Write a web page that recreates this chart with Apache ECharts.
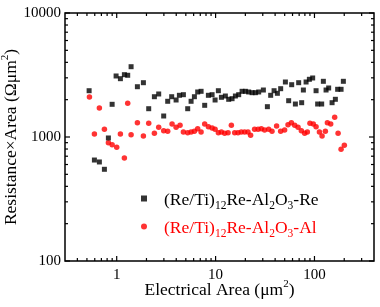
<!DOCTYPE html>
<html><head><meta charset="utf-8">
<script src="https://cdn.jsdelivr.net/npm/echarts@6/dist/echarts.min.js"></script>
<style>html,body{margin:0;padding:0;background:#fff}#c{width:380px;height:307px}</style>
</head><body><div id="c"></div>
<script>
// (Re/Ti)12Re-Al2O3-Re  (black squares)
const reArea = [0.526,0.595,0.668,0.751,0.824,0.899,0.986,1.09,1.196,1.292,1.398,1.619,1.862,2.107,2.405,2.659,2.987,3.279,3.598,3.987,4.305,4.726,5.224,5.653,6.106,6.592,7.135,7.759,8.458,9.22,9.885,10.67,11.45,12.56,13.57,14.68,15.86,17.13,18.53,20.01,21.61,23.39,25.26,27.28,30.43,33.41,36.07,39.04,42.17,45.52,50.8,54.84,58.83,64.12,69.22,74.24,77.24,82.27,88.8,95.9,103.8,107.7,118.3,123,131,139.2,150.7,162.7,171.6,185.8,196];
const reRA = [2362,652,629,549,982,1835,3105,2953,3181,3146,3689,2544,2741,1691,2113,2223,1477,1941,2113,1988,2169,2194,1691,1941,2113,2307,2336,1801,2169,2194,1988,2362,2090,2141,2014,2037,2141,2194,2336,2336,2307,2277,2277,2307,2393,1756,2169,2362,2251,2452,2777,1962,2641,1845,2741,1891,2393,2777,2920,2992,2362,1845,1845,2813,2393,2485,1891,2014,2425,2425,2813];
// (Re/Ti)12Re-Al2O3-Al  (red circles)
const alArea = [0.530,0.595,0.668,0.751,0.824,0.899,1.0,1.09,1.196,1.292,1.398,1.619,1.862,2.107,2.405,2.659,2.987,3.279,3.63,3.987,4.37,4.726,5.224,5.653,6.106,6.592,7.135,7.759,8.458,9.22,9.885,10.67,11.45,12.35,13.36,14.44,15.6,16.86,18.2,19.66,21.26,22.6,24.8,26.9,29.0,31.3,34.4,37.2,41.4,45.5,49.9,54.0,58.4,63.1,68.2,73.7,79.6,84.7,90.0,97.3,103.8,112.2,119.4,128.9,135.1,145.9,160.1,173.3,185.8,200.5];
const alRA = [2102,1057,1713,1154,900,867,826,1057,677,1870,1043,1304,1019,1290,1071,1197,1124,1112,1273,1197,1243,1097,1083,1097,1112,1167,1097,1273,1211,1182,1154,1083,1097,1071,1083,1243,1083,1083,1097,1097,1097,1032,1154,1154,1167,1139,1154,1112,1227,1112,1139,1257,1304,1243,1197,1124,1071,1097,1290,1273,1211,1097,1019,1112,1304,1273,1441,1071,796,857];
const seriesNames = ['(Re/Ti)12Re-Al2O3-Re', '(Re/Ti)12Re-Al2O3-Al'];
const xTickLabels = [1, 10, 100];
const yTickLabels = [100, 1000, 10000];
const xRange = [0.3, 400];
const yRange = [100, 10000];

const FONT = '"Liberation Serif", "Times New Roman", serif';
const TITLE_SIZE = 17.5;
const zip = (a, b) => a.map((v, i) => [v, b[i]]);

function isTick(v, list) { return list.some(t => Math.abs(Math.log10(v) - Math.log10(t)) < 1e-6); }

function logTicks(range) {
  const major = [], minor = [];
  const lo = Math.floor(Math.log10(range[0])), hi = Math.ceil(Math.log10(range[1]));
  for (let e = lo; e <= hi; e++) {
    const d = Math.pow(10, e);
    if (d >= range[0] * 0.9999 && d <= range[1] * 1.0001) major.push(d);
    for (let k = 2; k <= 9; k++) {
      const v = k * d;
      if (v > range[0] * 1.0001 && v < range[1] * 0.9999) minor.push(v);
    }
  }
  return { major, minor };
}

function renderTicks(params, api) {
  const bl = api.coord([xRange[0], yRange[0]]);
  const tr = api.coord([xRange[1], yRange[1]]);
  const L = bl[0], B = bl[1], R = tr[0], T = tr[1];
  const xt = logTicks(xRange), yt = logTicks(yRange);
  const kids = [];
  const st = { stroke: '#000', lineWidth: 1.2 };
  const add = (x1, y1, x2, y2) => kids.push({ type: 'line', shape: { x1, y1, x2, y2 }, style: st });
  xt.major.forEach(v => { const x = api.coord([v, yRange[0]])[0]; add(x, B, x, B - 5); add(x, T, x, T + 5); });
  xt.minor.forEach(v => { const x = api.coord([v, yRange[0]])[0]; add(x, B, x, B - 3); add(x, T, x, T + 3); });
  yt.major.forEach(v => { const y = api.coord([xRange[0], v])[1]; add(L, y, L + 5, y); add(R, y, R - 5, y); });
  yt.minor.forEach(v => { const y = api.coord([xRange[0], v])[1]; add(L, y, L + 3, y); add(R, y, R - 3, y); });
  return { type: 'group', children: kids };
}

function legendRich(name) {
  const p = name === seriesNames[0] ? 'k' : 'r';
  return `{g|}{${p}n|(Re/Ti)}{${p}s|12}{${p}n|Re-Al}{${p}s|2}{${p}n|O}{${p}s|3}{${p}n|-${p === 'k' ? 'Re' : 'Al'}}`;
}

const titleRich = {
  n: { fontFamily: FONT, fontSize: TITLE_SIZE, color: '#000', lineHeight: 20, verticalAlign: 'bottom' },
  p: { fontFamily: FONT, fontSize: 11, color: '#000', lineHeight: 20, verticalAlign: 'top' }
};

const chart = echarts.init(document.getElementById('c'), null, { renderer: 'canvas' });
chart.setOption({
  animation: false,
  backgroundColor: '#fff',
  grid: { left: 65, right: 6, top: 13, bottom: 46, outerBoundsMode: 'none', containLabel: false,
    show: true, borderColor: '#000', borderWidth: 1.5, backgroundColor: 'transparent' },
  xAxis: {
    type: 'log', min: xRange[0], max: xRange[1], logBase: 10,
    axisLine: { show: false }, axisTick: { show: false }, splitLine: { show: false },
    axisLabel: { margin: 7, fontFamily: FONT, fontSize: 15, color: '#000',
      formatter: v => isTick(v, xTickLabels) ? String(Math.round(v)) : '' },
    name: '{n|Electrical Area (μm}{p|2}{n|)}', nameLocation: 'middle', nameGap: 18, nameMoveOverlap: false,
    nameTextStyle: { rich: titleRich }
  },
  yAxis: {
    type: 'log', min: yRange[0], max: yRange[1], logBase: 10,
    axisLine: { show: false }, axisTick: { show: false }, splitLine: { show: false },
    axisLabel: { margin: 4, fontFamily: FONT, fontSize: 15, color: '#000',
      formatter: v => isTick(v, yTickLabels) ? String(Math.round(v)) : '' },
    name: '{n|Resistance×Area (Ωμm}{p|2}{n|)}', nameLocation: 'middle', nameGap: 45, nameMoveOverlap: false,
    nameTextStyle: { rich: titleRich }
  },
  legend: {
    orient: 'vertical', left: 136, top: 186, itemGap: 7, itemWidth: 6, itemHeight: 6,
    data: seriesNames, selectedMode: false,
    formatter: legendRich,
    textStyle: { rich: {
      g: { width: 12 },
      kn: { fontFamily: FONT, fontSize: TITLE_SIZE, color: '#000', lineHeight: 21, verticalAlign: 'bottom' },
      ks: { fontFamily: FONT, fontSize: 11.5, color: '#000', lineHeight: 21, verticalAlign: 'bottom', padding: [0,0,-3,0] },
      rn: { fontFamily: FONT, fontSize: TITLE_SIZE, color: '#ff0000', lineHeight: 21, verticalAlign: 'bottom' },
      rs: { fontFamily: FONT, fontSize: 11.5, color: '#ff0000', lineHeight: 21, verticalAlign: 'bottom', padding: [0,0,-3,0] } } }
  },
  series: [
    { name: seriesNames[0], type: 'scatter', symbol: 'rect', symbolSize: 5, itemStyle: { color: '#000' }, data: zip(reArea, reRA), z: 3 },
    { name: seriesNames[1], type: 'scatter', symbol: 'circle', symbolSize: 5.5, itemStyle: { color: '#ff0000' }, data: zip(alArea, alRA), z: 2 },
    { type: 'custom', renderItem: renderTicks, data: [[1, 1000]], silent: true, clip: false, z: 5 }
  ]
});
</script>
</body></html>
